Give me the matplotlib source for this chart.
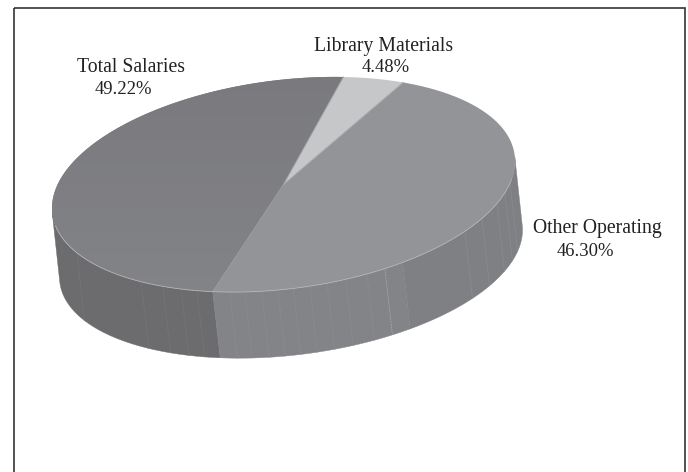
import numpy as np
import matplotlib
matplotlib.use("Agg")
import matplotlib.pyplot as plt
from matplotlib.patches import Polygon, Rectangle

labels = ["Total Salaries", "Other Operating", "Library Materials"]
shares = [49.22, 46.30, 4.48]
top_colors = ["#7e7e82", "#939497", "#c6c7c9"]
side_color_total = "#6c6c6f"
side_color_front = "#838487"
side_color_right = "#7f8083"
# x positions (pixels on upper rim) of faint facet seams seen on the wall
seam_x = [77, 141, 163, 181, 197, 230, 245, 262, 278, 293, 310, 327, 346, 367, 385, 465, 482, 497, 505, 510]

plt.rcParams["font.family"] = ["Liberation Serif", "DejaVu Serif"]
fig = plt.figure(figsize=(6.88, 4.72), dpi=100)
ax = fig.add_axes([0, 0, 1, 1])
ax.set_xlim(0, 688)
ax.set_ylim(472, 0)
ax.axis("off")

ax.add_patch(Rectangle((13.5, 8), 671, 480, fill=False, ec="#333333", lw=1.2))

CX, CY, AX, SK, BY = 283.5, 184.5, 231.5, 23.5, 105.0
DX, DY, BY2 = 7.5, 69.0, 102.0
START = 75.0


def rim(t):
    r = np.radians(t)
    return np.column_stack([CX + AX * np.cos(r), CY - SK * np.cos(r) - BY * np.sin(r)])


def base(t):
    r = np.radians(t)
    return np.column_stack([CX + DX + AX * np.cos(r), CY + DY - SK * np.cos(r) - BY2 * np.sin(r)])


spans = np.array(shares) / np.sum(shares) * 360
edges = START + np.concatenate([[0], np.cumsum(spans)])

# walls: start and end where the rim's tangent is parallel to the wall
boundary = edges[1]
for a, b, c in [(182.8, boundary, side_color_total), (boundary, 301, side_color_front), (301, 362.8, side_color_right)]:
    ts = np.linspace(a, b, 150)
    pts = np.vstack([rim(ts), base(ts)[::-1]])
    ax.add_patch(Polygon(pts, closed=True, fc=c, ec=c, lw=0.3, zorder=1))

# seams on wall
tt = np.linspace(180, 360, 2000)
rr = rim(tt)
bb = base(tt)
for sx in seam_x:
    i = np.argmin(np.abs(rr[:, 0] - sx))
    bright = sx == 385
    col = "#a6a7aa" if bright else ("#757578" if sx < 212 else "#8b8c8f")
    ax.plot([rr[i, 0], bb[i, 0]], [rr[i, 1], bb[i, 1]], color=col, lw=0.5,
            ls=(0, (3, 1)) if bright else "-", zorder=2)

# top faces
for i in range(3):
    arc = rim(np.linspace(edges[i], edges[i + 1], 200))
    pts = np.vstack([[CX, CY], arc])
    poly = Polygon(pts, closed=True, fc=top_colors[i], ec="none", zorder=3)
    ax.add_patch(poly)
    if i == 0:
        grad = np.linspace(0, 1, 256)[:, None]
        cmap = matplotlib.colors.LinearSegmentedColormap.from_list("g", ["#7a7a7e", "#838488"])
        im = ax.imshow(grad, extent=(40, 350, 300, 70), cmap=cmap, aspect="auto", zorder=3.1)
        im.set_clip_path(poly)
ax.set_xlim(0, 688)
ax.set_ylim(472, 0)

# slice edges and rim highlight
for e, c in zip(edges[:3], ["#a5a6a8", "#9a9b9e", "#a5a6a8"]):
    p = rim(np.array([e]))[0]
    ax.plot([CX, p[0]], [CY, p[1]], color=c, lw=0.7, zorder=4)
front = rim(np.linspace(190, 350, 300))
ax.plot(front[:, 0], front[:, 1], color="#b4b5b8", lw=0.6, zorder=4)

name_pos = [(131, 67), (597, 229), (383.5, 47)]
pct_pos = [(123, 89), (585, 251), (386, 68)]
for i in range(3):
    ax.text(*name_pos[i], labels[i], ha="center", va="center", fontsize=14.2, color="#222222", zorder=5)
    ax.text(*pct_pos[i], f"{shares[i]:.2f}%", ha="center", va="center", fontsize=13.4, color="#222222", zorder=5)

fig.savefig("out.png", dpi=100)
